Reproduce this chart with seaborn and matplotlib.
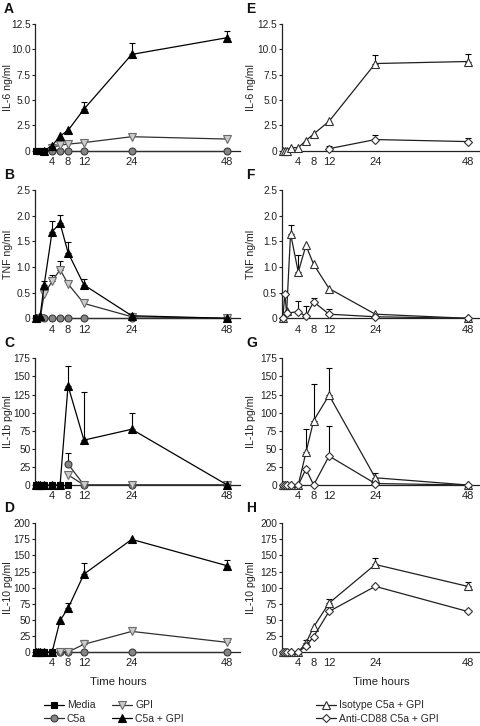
import numpy as np
import pandas as pd
import matplotlib
matplotlib.use("Agg")
import matplotlib.pyplot as plt
from matplotlib.lines import Line2D
import seaborn as sns

nan = np.nan
TIMES = [0, 0.5, 1, 2, 4, 6, 8, 12, 24, 48]
X_TICKS = [4, 8, 12, 24, 48]

# ---- Panel A: IL-6 ng/ml ----
media_A = [0, 0, 0, 0, nan, nan, nan, nan, nan, nan]
c5a_A = [nan, nan, nan, nan, 0, 0, 0, 0, 0, 0]
gpi_A = [nan, nan, nan, nan, 0.3, 0.55, 0.65, 0.8, 1.38, 1.15]
c5agpi_A = [nan, nan, nan, 0, 0.5, 1.45, 2.0, 4.1, 9.5, 11.15]
c5agpi_A_err = [nan, nan, nan, nan, nan, nan, nan, 0.75, 1.15, 0.7]

# ---- Panel B: TNF ng/ml ----
media_B = [0, 0, nan, nan, nan, nan, nan, nan, nan, nan]
c5a_B = [nan, nan, nan, 0, 0, 0, 0, 0, 0, 0]
gpi_B = [nan, nan, 0, 0.47, 0.72, 0.95, 0.67, 0.29, 0.03, 0]
gpi_B_err = [nan, nan, nan, nan, 0.12, 0.16, nan, nan, nan, nan]
c5agpi_B = [0, nan, 0.05, 0.65, 1.69, 1.85, 1.28, 0.65, 0.05, 0]
c5agpi_B_err = [nan, nan, nan, 0.07, 0.21, 0.17, 0.2, 0.12, nan, nan]

# ---- Panel C: IL-1b pg/ml ----
media_C = [0, 0, 0, 0, 0, 0, 0, nan, nan, nan]
c5a_C = [nan, nan, nan, nan, nan, nan, 29, 0, 0, 0]
c5a_C_err = [nan, nan, nan, nan, nan, nan, 15, nan, nan, nan]
gpi_C = [nan, nan, nan, nan, nan, nan, 14, 0, 0, 0]
c5agpi_C = [0, 0, 0, 0, 0, 0, 137, 62, 77, 0]
c5agpi_C_err = [nan, nan, nan, nan, nan, nan, 28, 67, 23, nan]

# ---- Panel D: IL-10 pg/ml ----
media_D = [0, 0, 0, 0, 0, nan, nan, nan, nan, nan]
c5a_D = [nan, nan, nan, nan, nan, 0, 0, 0, 0, 0]
gpi_D = [nan, nan, nan, nan, nan, 0, 0, 12, 32, 15]
gpi_D_err = [nan, nan, nan, nan, nan, nan, nan, 6, nan, 5]
c5agpi_D = [0, 0, 0, 0, 0, 49, 68, 121, 175, 134]
c5agpi_D_err = [nan, nan, nan, nan, nan, nan, 8, 17, nan, 9]

# ---- Panel E: IL-6 ng/ml ----
iso_E = [0, 0, 0, 0.3, 0.3, 1.0, 1.65, 2.9, 8.6, 8.8]
iso_E_err = [nan, nan, nan, nan, nan, nan, nan, nan, 0.8, 0.75]
cd88_E = [nan, nan, nan, nan, nan, nan, nan, 0.2, 1.1, 0.9]
cd88_E_err = [nan, nan, nan, nan, nan, nan, nan, 0.3, 0.4, 0.4]

# ---- Panel F: TNF ng/ml ----
iso_F = [0, nan, 0.15, 1.65, 0.9, 1.42, 1.05, 0.58, 0.08, 0]
iso_F_err = [nan, nan, nan, 0.17, 0.33, nan, nan, nan, nan, nan]
cd88_F = [0, 0.47, 0.1, nan, 0.13, 0.04, 0.32, 0.08, 0.03, 0]
cd88_F_err = [nan, nan, nan, nan, 0.21, 0.2, 0.08, 0.1, nan, nan]

# ---- Panel G: IL-1b pg/ml ----
iso_G = [0, 0, 0, 0, 0, 45, 89, 124, 10, 0]
iso_G_err = [nan, nan, nan, nan, nan, 33, 51, 38, 7, nan]
cd88_G = [0, 0, 0, 0, 0, 22, 0, 40, 2, 0]
cd88_G_err = [nan, nan, nan, nan, nan, nan, nan, 41, nan, nan]

# ---- Panel H: IL-10 pg/ml ----
iso_H = [0, 0, 0, 0, 0, 14, 39, 76, 136, 102]
iso_H_err = [nan, nan, nan, nan, nan, 5, nan, 7, 10, 7]
cd88_H = [0, 0, 0, 0, 0, 9, 24, 63, 102, 63]

sns.set_style("ticks")
plt.rcParams["font.family"] = ["Liberation Sans", "DejaVu Sans"]

STY = {
    "Media": dict(marker="s", markerfacecolor="black", markeredgecolor="black", markersize=4.2, color="black"),
    "C5a": dict(marker="o", markerfacecolor="#858585", markeredgecolor="#3c3c3c", markersize=5, color="#303030"),
    "GPI": dict(marker="v", markerfacecolor="#cccccc", markeredgecolor="#6a6a6a", markersize=5.5, color="#303030"),
    "C5a + GPI": dict(marker="^", markerfacecolor="black", markeredgecolor="black", markersize=5.5, color="black"),
    "Isotype C5a + GPI": dict(marker="^", markerfacecolor="white", markeredgecolor="#303030", markersize=5.5, color="#202020"),
    "Anti-CD88 C5a + GPI": dict(marker="D", markerfacecolor="white", markeredgecolor="#303030", markersize=3.8, color="#202020"),
}

W, H = 481, 726
fig = plt.figure(figsize=(W / 100, H / 100), dpi=100)

def rect(x0, x1, ytop, ybot):
    return [x0 / W, 1 - ybot / H, (x1 - x0) / W, (ybot - ytop) / H]

ROWS = [(24, 150.7), (190, 318.3), (358.3, 485), (523.3, 652)]
LEFT = (35, 240)
RIGHT = (281.7, 480)

panels = [
    ("A", LEFT, ROWS[0], "IL-6 ng/ml", 12.5, [0, 2.5, 5, 7.5, 10, 12.5], ["0", "2.5", "5.0", "7.5", "10.0", "12.5"],
     [("Media", media_A, None), ("C5a", c5a_A, None), ("GPI", gpi_A, None), ("C5a + GPI", c5agpi_A, c5agpi_A_err)]),
    ("B", LEFT, ROWS[1], "TNF ng/ml", 2.5, [0, 0.5, 1, 1.5, 2, 2.5], ["0", "0.5", "1.0", "1.5", "2.0", "2.5"],
     [("Media", media_B, None), ("C5a", c5a_B, None), ("GPI", gpi_B, gpi_B_err), ("C5a + GPI", c5agpi_B, c5agpi_B_err)]),
    ("C", LEFT, ROWS[2], "IL-1b pg/ml", 175, list(range(0, 176, 25)), [str(v) for v in range(0, 176, 25)],
     [("C5a", c5a_C, c5a_C_err), ("GPI", gpi_C, None), ("C5a + GPI", c5agpi_C, c5agpi_C_err), ("Media", media_C, None)]),
    ("D", LEFT, ROWS[3], "IL-10 pg/ml", 200, list(range(0, 201, 25)), [str(v) for v in range(0, 201, 25)],
     [("C5a", c5a_D, None), ("GPI", gpi_D, gpi_D_err), ("C5a + GPI", c5agpi_D, c5agpi_D_err), ("Media", media_D, None)]),
    ("E", RIGHT, ROWS[0], "IL-6 ng/ml", 12.5, [0, 2.5, 5, 7.5, 10, 12.5], ["0", "2.5", "5.0", "7.5", "10.0", "12.5"],
     [("Isotype C5a + GPI", iso_E, iso_E_err), ("Anti-CD88 C5a + GPI", cd88_E, cd88_E_err)]),
    ("F", RIGHT, ROWS[1], "TNF ng/ml", 2.5, [0, 0.5, 1, 1.5, 2, 2.5], ["0", "0.5", "1.0", "1.5", "2.0", "2.5"],
     [("Isotype C5a + GPI", iso_F, iso_F_err), ("Anti-CD88 C5a + GPI", cd88_F, cd88_F_err)]),
    ("G", RIGHT, ROWS[2], "IL-1b pg/ml", 175, list(range(0, 176, 25)), [str(v) for v in range(0, 176, 25)],
     [("Isotype C5a + GPI", iso_G, iso_G_err), ("Anti-CD88 C5a + GPI", cd88_G, cd88_G_err)]),
    ("H", RIGHT, ROWS[3], "IL-10 pg/ml", 200, list(range(0, 201, 25)), [str(v) for v in range(0, 201, 25)],
     [("Isotype C5a + GPI", iso_H, iso_H_err), ("Anti-CD88 C5a + GPI", cd88_H, None)]),
]

for letter, (x0, x1), (yt, yb), ylabel, ymax, yticks, ylabels, series in panels:
    ax = fig.add_axes(rect(x0, x1, yt, yb))
    for z, (name, vals, errs) in enumerate(series):
        df = pd.DataFrame({"t": TIMES, "v": vals}).dropna()
        st = dict(STY[name])
        sns.lineplot(data=df, x="t", y="v", ax=ax, linewidth=0.9, clip_on=False,
                     zorder=3 + z, markeredgewidth=0.8, errorbar=None, **st)
        if errs is not None:
            de = pd.DataFrame({"t": TIMES, "v": vals, "e": errs}).dropna()
            ax.errorbar(de["t"], de["v"], yerr=[np.zeros(len(de)), de["e"]], fmt="none",
                        ecolor="black", elinewidth=0.8, capsize=2.5, capthick=0.8,
                        clip_on=False, zorder=2)
    ax.set_xlim(-0.3, 51.2)
    ax.set_ylim(0, ymax)
    ax.set_yticks(yticks)
    ax.set_yticklabels(ylabels)
    ax.set_xticks(X_TICKS)
    ax.set_xticklabels([str(v) for v in X_TICKS])
    ax.tick_params(axis="y", direction="out", length=2.5, width=0.8, pad=0.8, labelsize=7.3, colors="#222222")
    ax.tick_params(axis="x", length=0, pad=4.5, labelsize=8, colors="#222222")
    for s in ("top", "right"):
        ax.spines[s].set_visible(False)
    for s in ("left", "bottom"):
        ax.spines[s].set_linewidth(0.9)
        ax.spines[s].set_color("#222222")
    ax.set_xlabel("")
    ax.set_ylabel(ylabel, fontsize=7.6, color="#222222")
    label_px = 13 if x0 < 100 else 256
    ax.yaxis.set_label_coords((label_px - x0) / (x1 - x0), 0.5)
    fig.text((4 if x0 < 100 else 246) / W, 1 - (yt - 15) / H, letter, fontsize=10,
             fontweight="bold", ha="left", va="center", color="#111111")

fig.text(118 / W, 1 - 682 / H, "Time hours", fontsize=8.2, ha="center", va="center", color="#222222")
fig.text(381 / W, 1 - 682 / H, "Time hours", fontsize=8.2, ha="center", va="center", color="#222222")

def handle(name):
    st = dict(STY[name])
    return Line2D([], [], linewidth=0.9, markeredgewidth=0.8, **st)

leg_font = {"family": ["Liberation Sans Narrow", "Liberation Sans"], "size": 7.5}
left_names = ["Media", "C5a", "GPI", "C5a + GPI"]
leg1 = fig.legend([handle(n) for n in left_names], left_names, ncol=2, frameon=False,
                  loc="center left", bbox_to_anchor=(44 / W, 1 - 712 / H), prop=leg_font,
                  handlelength=1.9, handletextpad=0.3, columnspacing=1.6, labelspacing=0.35,
                  borderaxespad=0, borderpad=0)
right_names = ["Isotype C5a + GPI", "Anti-CD88 C5a + GPI"]
leg2 = fig.legend([handle(n) for n in right_names], right_names, ncol=1, frameon=False,
                  loc="center left", bbox_to_anchor=(316 / W, 1 - 712 / H), prop=leg_font,
                  handlelength=1.9, handletextpad=0.3, labelspacing=0.35,
                  borderaxespad=0, borderpad=0)

fig.savefig("out.png", dpi=100)
